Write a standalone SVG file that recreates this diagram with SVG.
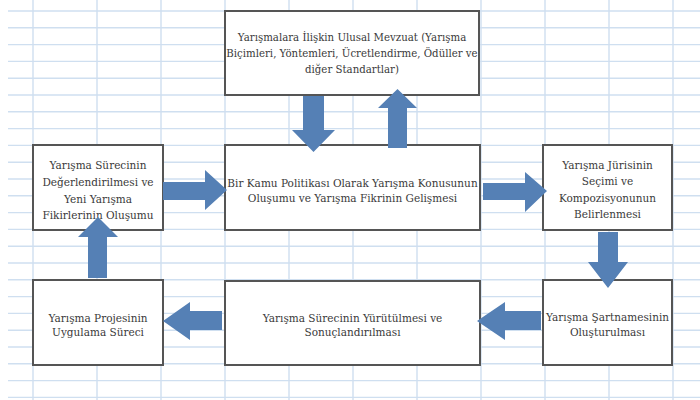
<svg xmlns="http://www.w3.org/2000/svg" width="700" height="400" viewBox="0 0 700 400">
<style>
.bg{fill:#ffffff}
.grid line{stroke:#cfdff0;stroke-width:1.4}
.box rect{fill:#ffffff;stroke:#555555;stroke-width:2}
.box text{font-family:"DejaVu Serif","Liberation Serif",serif;font-size:10.5px;fill:#3a3a3a;text-anchor:middle}
#n-mevzuat text{font-size:10.2px}
.arr{fill:#5580b5}
</style>
<rect class="bg" x="0" y="0" width="700" height="400"/>
<g class="grid">
<line x1="8" y1="11" x2="700" y2="11"/><line x1="8" y1="27.8" x2="700" y2="27.8"/><line x1="8" y1="44.6" x2="700" y2="44.6"/><line x1="8" y1="61.4" x2="700" y2="61.4"/><line x1="8" y1="78.2" x2="700" y2="78.2"/><line x1="8" y1="95" x2="700" y2="95"/><line x1="8" y1="111.8" x2="700" y2="111.8"/><line x1="8" y1="128.6" x2="700" y2="128.6"/><line x1="8" y1="145.4" x2="700" y2="145.4"/><line x1="8" y1="162.2" x2="700" y2="162.2"/><line x1="8" y1="179" x2="700" y2="179"/><line x1="8" y1="195.8" x2="700" y2="195.8"/><line x1="8" y1="212.6" x2="700" y2="212.6"/><line x1="8" y1="229.4" x2="700" y2="229.4"/><line x1="8" y1="246.2" x2="700" y2="246.2"/><line x1="8" y1="263" x2="700" y2="263"/><line x1="8" y1="279.8" x2="700" y2="279.8"/><line x1="8" y1="296.6" x2="700" y2="296.6"/><line x1="8" y1="313.4" x2="700" y2="313.4"/><line x1="8" y1="330.2" x2="700" y2="330.2"/><line x1="8" y1="347" x2="700" y2="347"/><line x1="8" y1="363.8" x2="700" y2="363.8"/><line x1="8" y1="380.6" x2="700" y2="380.6"/><line x1="8" y1="397.4" x2="700" y2="397.4"/>
<line x1="33" y1="0" x2="33" y2="400"/><line x1="97" y1="0" x2="97" y2="400"/><line x1="161" y1="0" x2="161" y2="400"/><line x1="225" y1="0" x2="225" y2="400"/><line x1="289" y1="0" x2="289" y2="400"/><line x1="353" y1="0" x2="353" y2="400"/><line x1="417" y1="0" x2="417" y2="400"/><line x1="481" y1="0" x2="481" y2="400"/><line x1="545" y1="0" x2="545" y2="400"/><line x1="609" y1="0" x2="609" y2="400"/><line x1="673" y1="0" x2="673" y2="400"/>
</g>
<g id="n-mevzuat" class="box">
<rect x="225" y="11" width="254" height="84"/>
<text x="352" y="41">Yarışmalara İlişkin Ulusal Mevzuat (Yarışma</text>
<text x="352" y="57">Biçimleri, Yöntemleri, Ücretlendirme, Ödüller ve</text>
<text x="352" y="73">diğer Standartlar)</text>
</g>
<g id="n-degerlendirme" class="box">
<rect x="33" y="145" width="130" height="85"/>
<text x="98" y="169">Yarışma Sürecinin</text>
<text x="98" y="186">Değerlendirilmesi ve</text>
<text x="98" y="203">Yeni Yarışma</text>
<text x="98" y="219">Fikirlerinin Oluşumu</text>
</g>
<g id="n-kamu" class="box">
<rect x="225" y="145" width="255" height="85"/>
<text x="352.5" y="187">Bir Kamu Politikası Olarak Yarışma Konusunun</text>
<text x="352.5" y="202">Oluşumu ve Yarışma Fikrinin Gelişmesi</text>
</g>
<g id="n-juri" class="box">
<rect x="543" y="145" width="129" height="85"/>
<text x="607.5" y="169">Yarışma Jürisinin</text>
<text x="607.5" y="185">Seçimi ve</text>
<text x="607.5" y="202">Kompozisyonunun</text>
<text x="607.5" y="218">Belirlenmesi</text>
</g>
<g id="n-uygulama" class="box">
<rect x="33" y="280" width="130" height="85"/>
<text x="98" y="322">Yarışma Projesinin</text>
<text x="98" y="336">Uygulama Süreci</text>
</g>
<g id="n-yurutme" class="box">
<rect x="225" y="281" width="255" height="84"/>
<text x="352.5" y="322">Yarışma Sürecinin Yürütülmesi ve</text>
<text x="352.5" y="336">Sonuçlandırılması</text>
</g>
<g id="n-sartname" class="box">
<rect x="543" y="280" width="129" height="85"/>
<text x="607.5" y="321">Yarışma Şartnamesinin</text>
<text x="607.5" y="336">Oluşturulması</text>
</g>
<g id="connectors">
<polygon class="arr" points="303,96 324,96 324,130 335,130 313.5,152 292,130 303,130"/>
<polygon class="arr" points="388,148 407,148 407,108 417,108 397.5,89 378,108 388,108"/>
<polygon class="arr" points="163,182 205,182 205,170 227,190 205,210 205,200 163,200"/>
<polygon class="arr" points="483,183 525,183 525,172 547,191 525,212 525,200 483,200"/>
<polygon class="arr" points="598,232 618,232 618,262 628,262 608,288 588,262 598,262"/>
<polygon class="arr" points="541,311 505,311 505,302 477,321 505,340 505,330 541,330"/>
<polygon class="arr" points="222,311 190,311 190,302 163,321 190,340 190,330 222,330"/>
<polygon class="arr" points="88,278 107,278 107,237 118,237 98,217 78,237 88,237"/>
</g>
</svg>
